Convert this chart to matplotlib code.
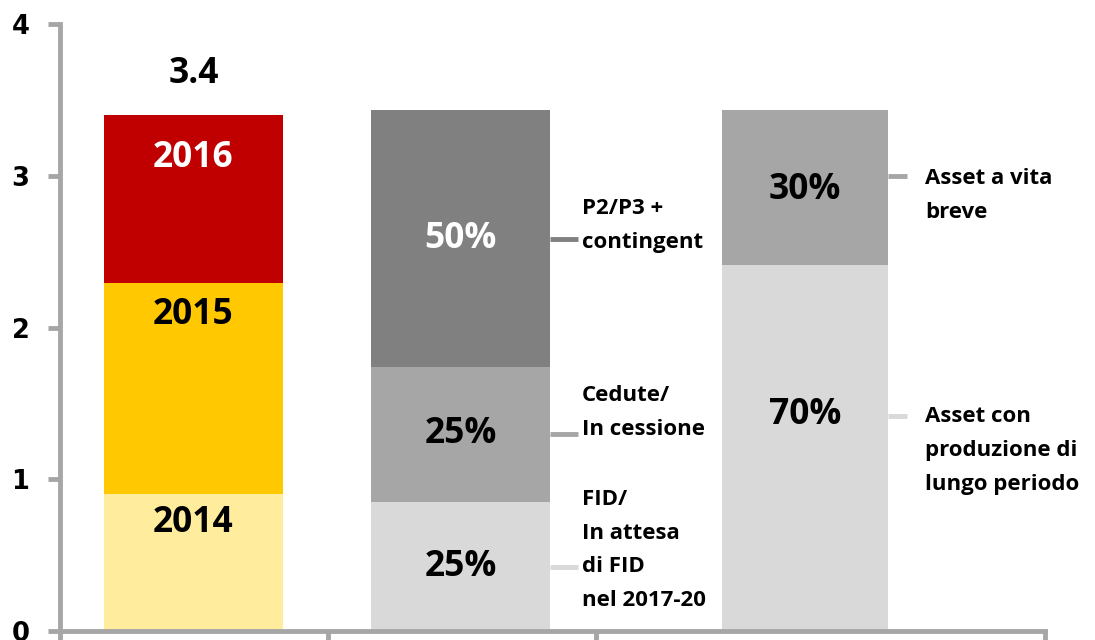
import matplotlib
matplotlib.use("Agg")
import matplotlib.pyplot as plt
from matplotlib import font_manager as fm

# ---- data ----
years = ["2014", "2015", "2016"]
year_values = [0.90, 1.39, 1.11]          # stacked, total 3.4
year_colors = ["#FFEC9C", "#FFC800", "#C00000"]
year_text_colors = ["black", "black", "white"]
total_label = "3.4"

bar2_pct = ["25%", "25%", "50%"]
bar2_values = [0.85, 0.89, 1.69]
bar2_colors = ["#D9D9D9", "#A6A6A6", "#808080"]
bar2_text_colors = ["black", "black", "white"]
bar2_names = ["FID/\nIn attesa\ndi FID\nnel 2017-20", "Cedute/\nIn cessione", "P2/P3 +\ncontingent"]

bar3_pct = ["70%", "30%"]
bar3_values = [2.41, 1.02]
bar3_colors = ["#D9D9D9", "#A6A6A6"]
bar3_names = ["Asset con\nproduzione di\nlungo periodo", "Asset a vita\nbreve"]

yticks = [0, 1, 2, 3, 4]


def pick_bold_font(cands):
    for f in cands:
        try:
            p = fm.findfont(fm.FontProperties(family=f, weight="bold"),
                            fallback_to_default=False)
        except Exception:
            continue
        name = p.lower()
        if "bold" in name or "black" in name or "heavy" in name:
            return f
    return "DejaVu Sans"


FONT = pick_bold_font(["Open Sans", "Noto Sans", "Lato", "Roboto", "Liberation Sans", "Inter"])

# ---- layout ----
W, H = 1095, 640
fig = plt.figure(figsize=(W / 100, H / 100), dpi=100)
ax = fig.add_axes([60 / W, 9 / H, (1045 - 60) / W, (631 - 24) / H])
XMAX = 3.675
ax.set_xlim(0, XMAX)
ax.set_ylim(0, 4)

axis_col = "#A6A6A6"
BIG = 25.5
SMALL = 16
LS = 1.8

x1, x2, x3 = 0.498, 1.494, 2.78
w12, w3 = 0.668, 0.619

# bar 1
bottom = 0
year_label_y = [0.71, 2.08, 3.12]
for v, c, t, tc, ly in zip(year_values, year_colors, years, year_text_colors, year_label_y):
    ax.bar(x1, v, w12, bottom=bottom, color=c, linewidth=0, zorder=2)
    ax.text(x1, ly, t, ha="center", va="center", color=tc,
            fontsize=BIG, fontweight="bold", family=FONT, zorder=3)
    bottom += v
ax.text(x1, 3.67, total_label, ha="center", va="center", color="black",
        fontsize=BIG, fontweight="bold", family=FONT)

# bar 2
bottom = 0
bar2_name_y = [0.534, 1.44, 2.67]
for v, c, p, tc, name, ny in zip(bar2_values, bar2_colors, bar2_pct, bar2_text_colors,
                                 bar2_names, bar2_name_y):
    ax.bar(x2, v, w12, bottom=bottom, color=c, linewidth=0, zorder=2)
    mid = bottom + v / 2
    ax.text(x2, mid, p, ha="center", va="center", color=tc,
            fontsize=BIG, fontweight="bold", family=FONT, zorder=3)
    xe = x2 + w12 / 2
    ax.plot([xe, 1.933], [mid, mid], color=c, lw=3.5, solid_capstyle="butt",
            clip_on=False, zorder=1)
    ax.text(1.948, ny, name, ha="left", va="center", color="black",
            fontsize=SMALL, fontweight="bold", family=FONT, linespacing=LS)
    bottom += v

# bar 3
bottom = 0
pct_y = [1.423, 2.906]
conn_y = [1.417, 3.0]
name_y = [1.19, 2.87]
for v, c, p, py, cy, ny, name in zip(bar3_values, bar3_colors, bar3_pct, pct_y,
                                     conn_y, name_y, bar3_names):
    ax.bar(x3, v, w3, bottom=bottom, color=c, linewidth=0, zorder=2)
    ax.text(x3, py, p, ha="center", va="center", color="black",
            fontsize=BIG, fontweight="bold", family=FONT, zorder=3)
    xe = x3 + w3 / 2
    ax.plot([xe, 3.16], [cy, cy], color=c, lw=3.5, solid_capstyle="butt",
            clip_on=False, zorder=1)
    ax.text(3.228, ny, name, ha="left", va="center", color="black",
            fontsize=SMALL, fontweight="bold", family=FONT, linespacing=LS)
    bottom += v

# axes styling
for s in ["top", "right"]:
    ax.spines[s].set_visible(False)
for s in ["left", "bottom"]:
    ax.spines[s].set_color(axis_col)
    ax.spines[s].set_linewidth(3.5)
ax.set_yticks(yticks)
ax.set_yticklabels([str(t) for t in yticks], fontsize=18.5, fontweight="bold",
                   family="DejaVu Sans")
ax.set_xticks([0, 1, 2, XMAX])
ax.set_xticklabels([])
ax.tick_params(axis="both", color=axis_col, width=3.5, length=9, direction="out")
ax.tick_params(axis="y", pad=13)

fig.savefig("out.png", dpi=100)
